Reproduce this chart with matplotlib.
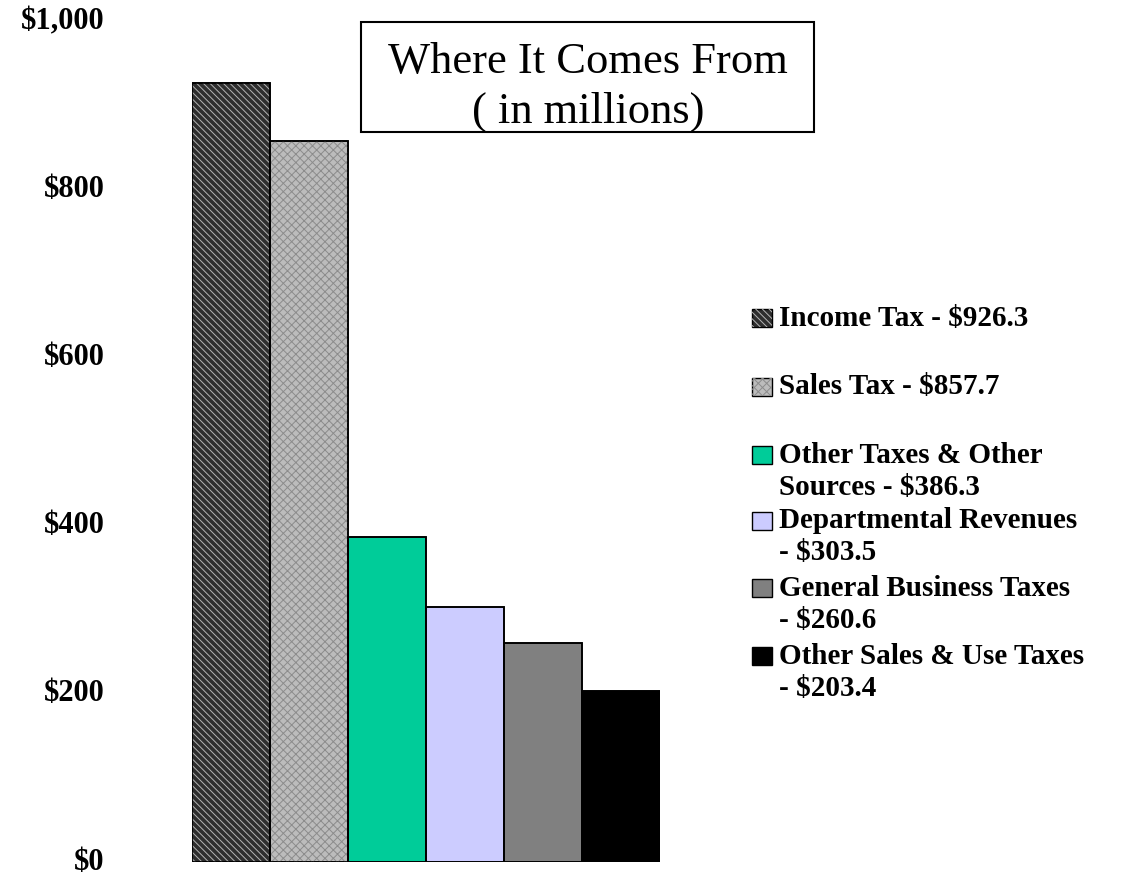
import matplotlib

matplotlib.use("Agg")
import matplotlib.pyplot as plt
from matplotlib.patches import Rectangle

# revenue sources, millions of dollars
sources = [
    "Income Tax",
    "Sales Tax",
    "Other Taxes & Other\nSources",
    "Departmental Revenues\n",
    "General Business Taxes\n",
    "Other Sales & Use Taxes\n",
]
amounts = [926.3, 857.7, 386.3, 303.5, 260.6, 203.4]
yticks = [0, 200, 400, 600, 800, 1000]
ytick_labels = ["$0", "$200", "$400", "$600", "$800", "$1,000"]

colors = ["#2e2e2e", "#bcbcbc", "#00cc99", "#ccccff", "#808080", "#000000"]
hatches = ["\\\\\\\\\\", "xxxx", None, None, None, None]
hatch_colors = ["#b4b4b4", "#8c8c8c", None, None, None, None]

plt.rcParams["font.family"] = ["Liberation Serif", "DejaVu Serif"]
plt.rcParams["hatch.linewidth"] = 0.7

W, H = 1121, 877
fig = plt.figure(figsize=(W / 100, H / 100), dpi=100)
ax = fig.add_axes([192 / W, 1 - 862 / H, 468 / W, 840.5 / H])

x = range(len(amounts))
ax.bar(x, amounts, width=1.0, color=colors, edgecolor="black", linewidth=1.2, zorder=2)
for i, (v, h, hc) in enumerate(zip(amounts, hatches, hatch_colors)):
    if h:
        ax.bar(i, v, width=1.0, facecolor="none", edgecolor=hc, hatch=h,
               linewidth=0, zorder=3)
ax.bar(x, amounts, width=1.0, facecolor="none", edgecolor="black", linewidth=1.2, zorder=4)

ax.set_xlim(-0.5, len(amounts) - 0.5)
ax.set_ylim(0, 1000)
ax.set_xticks([])
ax.set_yticks(yticks)
ax.set_yticklabels(ytick_labels, fontsize=22, fontweight="bold", va="center")
ax.tick_params(axis="y", length=0, pad=63)
for s in ax.spines.values():
    s.set_visible(False)

# title box
fig.add_artist(Rectangle((361 / W, 1 - 132 / H), 453 / W, 110 / H,
                         transform=fig.transFigure, facecolor="white",
                         edgecolor="black", linewidth=1.5))
fig.text(588 / W, 1 - 62 / H, "Where It Comes From", fontsize=32,
         ha="center", va="center")
fig.text(588 / W, 1 - 112 / H, "( in millions)", fontsize=32,
         ha="center", va="center")

# legend, built by hand to keep the Excel-like spacing
row_y = [318, 387, 455, 521, 588, 656]
for name, val, c, h, hc, yy in zip(sources, amounts, colors, hatches,
                                   hatch_colors, row_y):
    fig.add_artist(Rectangle((752 / W, 1 - (yy + 9) / H), 20 / W, 18 / H,
                             transform=fig.transFigure, facecolor=c,
                             edgecolor="black", linewidth=1))
    if h:
        fig.add_artist(Rectangle((752 / W, 1 - (yy + 9) / H), 20 / W, 18 / H,
                                 transform=fig.transFigure, facecolor="none",
                                 edgecolor=hc, hatch=h, linewidth=0))
    first, _, second = name.partition("\n")
    if not _:
        first = f"{first} - ${val:.1f}"
        lines = [first]
    elif second:
        lines = [first, f"{second} - ${val:.1f}"]
    else:
        lines = [first, f"- ${val:.1f}"]
    for k, line in enumerate(lines):
        fig.text(779 / W, 1 - (yy + 32 * k) / H, line, fontsize=21,
                 fontweight="bold", ha="left", va="center")

fig.savefig("out.png", dpi=100)
